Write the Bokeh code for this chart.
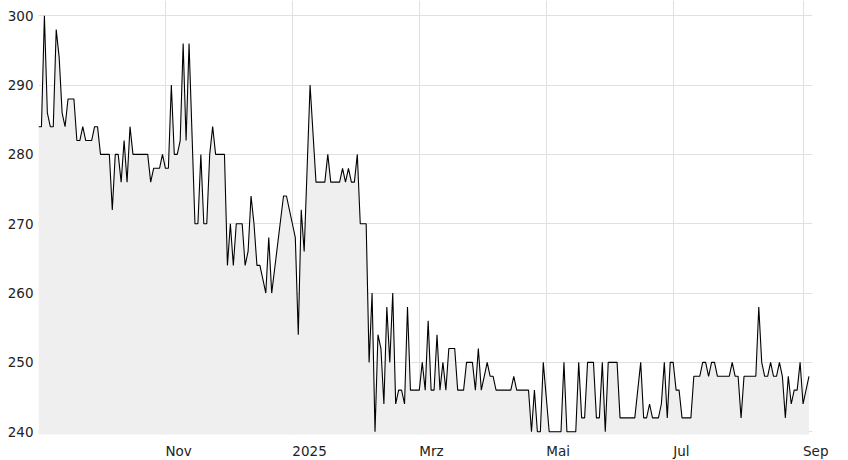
import pandas as pd
from bokeh.plotting import figure
from bokeh.layouts import column
from bokeh.models import ColumnDataSource, Range1d, FixedTicker
from bokeh.core.properties import value
from bokeh.embed import file_html
from bokeh.resources import INLINE

# trading days (x categories)
dates = pd.bdate_range("2024-09-03", "2025-09-03")

# closing values per trading day
values = [
    284, 284, 300, 286, 284, 284, 298, 294, 286, 284,
    288, 288, 288, 282, 282, 284, 282, 282, 282, 284,
    284, 280, 280, 280, 280, 272, 280, 280, 276, 282,
    276, 284, 280, 280, 280, 280, 280, 280, 276, 278,
    278, 278, 280, 278, 278, 290, 280, 280, 282, 296,
    282, 296, 283, 270, 270, 280, 270, 270, 280, 284,
    280, 280, 280, 280, 264, 270, 264, 270, 270, 270,
    264, 266, 274, 270, 264, 264, 262, 260, 268, 260,
    263.5, 267, 270.5, 274, 274, 272, 270, 268, 254, 272,
    266, 278, 290, 283, 276, 276, 276, 276, 280, 276,
    276, 276, 276, 278, 276, 278, 276, 276, 280, 270,
    270, 270, 250, 260, 240, 254, 252, 244, 258, 250,
    260, 244, 246, 246, 244, 258, 246, 246, 246, 246,
    250, 246, 256, 246, 246, 254, 246, 250, 246, 252,
    252, 252, 246, 246, 246, 250, 250, 250, 246, 252,
    246, 248, 250, 248, 248, 246, 246, 246, 246, 246,
    246, 248, 246, 246, 246, 246, 246, 240, 246, 240,
    240, 250, 245, 240, 240, 240, 240, 240, 250, 240,
    240, 240, 240, 250, 242, 242, 250, 250, 250, 242,
    242, 250, 240, 250, 250, 250, 250, 242, 242, 242,
    242, 242, 242, 246, 250, 242, 242, 244, 242, 242,
    242, 244, 250, 242, 250, 250, 246, 246, 242, 242,
    242, 242, 248, 248, 248, 250, 250, 248, 250, 250,
    248, 248, 248, 248, 248, 250, 248, 248, 242, 248,
    248, 248, 248, 248, 258, 250, 248, 248, 250, 248,
    248, 250, 248, 242, 248, 244, 246, 246, 250, 244,
    246, 248,
]

tick_months = ["2024-11", "2025-01", "2025-03", "2025-05", "2025-07", "2025-09"]
tick_labels = ["Nov", "2025", "Mrz", "Mai", "Jul", "Sep"]
y_ticks = [240, 250, 260, 270, 280, 290, 300]

n = min(len(dates), len(values))
idx = list(range(n))
month_keys = [d.strftime("%Y-%m") for d in dates[:n]]
tick_pos = [month_keys.index(m) for m in tick_months]

y_lo, y_hi = 239.6, 302.2
x_lo, x_hi = 0, 262.2
FONT = "DejaVu Sans"
FSIZE = "13.5px"
TCOL = "#222222"

src = ColumnDataSource(dict(x=idx, y=values[:n], base=[y_lo - 1] * n))

p = figure(width=842, height=442, output_backend="svg", toolbar_location=None,
           x_range=Range1d(x_lo, x_hi), y_range=Range1d(y_lo, y_hi),
           min_border_left=38, min_border_right=30, min_border_top=0,
           min_border_bottom=8)
p.frame_align = False
p.outline_line_color = None
p.background_fill_color = "white"
p.border_fill_color = "white"

p.varea(x="x", y1="base", y2="y", source=src, fill_color="#efefef")
p.line(x="x", y="y", source=src, line_color="black", line_width=1.1)

p.xaxis.visible = False
p.yaxis.ticker = FixedTicker(ticks=y_ticks)
p.yaxis.axis_line_color = None
p.yaxis.major_tick_line_color = None
p.yaxis.minor_tick_line_color = None
p.yaxis.major_tick_out = 0
p.yaxis.major_tick_in = 0
p.yaxis.major_label_text_font = FONT
p.yaxis.major_label_text_font_size = FSIZE
p.yaxis.major_label_text_color = TCOL
p.yaxis.major_label_standoff = 5

p.xgrid.grid_line_color = "#e0e0e0"
p.ygrid.grid_line_color = "#e0e0e0"
p.xgrid.ticker = FixedTicker(ticks=tick_pos)
p.ygrid.ticker = FixedTicker(ticks=y_ticks)

# strip below the plot holding the left-aligned month labels (same x scale)
strip_w = 842
strip_frame = strip_w - 38
px_per_unit = 774 / (x_hi - x_lo)
lab = figure(width=strip_w, height=18, output_backend="svg", toolbar_location=None,
             x_range=Range1d(x_lo, x_lo + strip_frame / px_per_unit),
             y_range=Range1d(-1, 1),
             min_border_left=38, min_border_right=0, min_border_top=0,
             min_border_bottom=0)
lab.frame_align = False
lab.axis.visible = False
lab.grid.visible = False
lab.outline_line_color = None
lab.background_fill_color = "white"
lab.border_fill_color = "white"
lab_src = ColumnDataSource(dict(x=tick_pos, y=[0.1] * len(tick_pos), text=tick_labels))
lab.text(x="x", y="y", text="text", source=lab_src, text_align="left",
         text_baseline="middle", text_font=value(FONT), text_font_size=value(FSIZE),
         text_color=TCOL)

layout = column(p, lab, spacing=0)
open("out.html", "w").write(file_html(layout, INLINE))
